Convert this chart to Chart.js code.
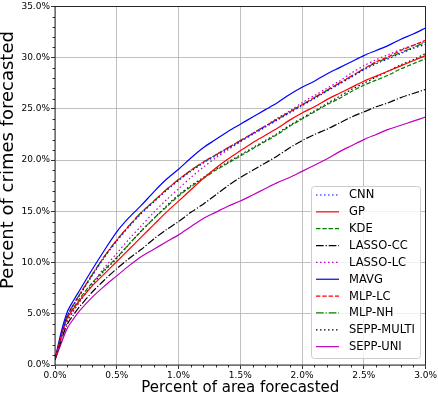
<!DOCTYPE html>
<html>
<head>
<meta charset="utf-8">
<script src="https://cdn.jsdelivr.net/npm/chart.js@4"></script>
<style>
  html, body { margin: 0; padding: 0; background: #fff; }
  #wrap { width: 438px; height: 396px; }
</style>
</head>
<body>
<div id="wrap"><canvas id="pai"></canvas></div>
<script>
// percent of area forecasted (x)
const areaPct = [0, 0.05, 0.1, 0.15, 0.2, 0.3, 0.4, 0.5, 0.6, 0.7, 0.8, 0.9, 1.0, 1.1, 1.2, 1.3, 1.4, 1.5,
    1.6, 1.7, 1.8, 1.9, 2.0, 2.1, 2.2, 2.3, 2.4, 2.5, 2.6, 2.7, 2.8, 2.9, 3.0];

// percent of crimes forecasted, per model
const cnn = [0.5, 2.9, 4.8, 5.9, 6.8, 8.7, 10.5, 12.1, 13.5, 14.8, 15.9, 17.0, 18.0, 18.9, 19.7, 20.4, 21.1, 21.8,
    22.5, 23.2, 23.9, 24.6, 25.3, 26.0, 26.7, 27.4, 28.1, 28.8, 29.4, 29.9, 30.4, 30.9, 31.3];
const gp = [0.5, 2.8, 4.6, 5.5, 6.3, 7.7, 8.9, 10.1, 11.3, 12.5, 13.7, 14.9, 16.0, 17.1, 18.2, 19.2, 20.1, 20.9,
    21.7, 22.4, 23.1, 23.9, 24.6, 25.2, 25.9, 26.5, 27.1, 27.7, 28.2, 28.7, 29.2, 29.7, 30.2];
const kde = [0.5, 2.8, 4.6, 5.6, 6.5, 8.0, 9.3, 10.5, 11.8, 13.1, 14.3, 15.4, 16.5, 17.4, 18.2, 19.0, 19.7, 20.4,
    21.1, 21.8, 22.5, 23.3, 24.0, 24.7, 25.4, 26.0, 26.7, 27.3, 27.8, 28.3, 28.9, 29.4, 29.9];
const lassoCC = [0.5, 2.4, 4.0, 4.9, 5.7, 7.1, 8.3, 9.4, 10.4, 11.3, 12.3, 13.2, 14.0, 14.9, 15.7, 16.6, 17.5, 18.3,
    19.0, 19.7, 20.4, 21.2, 21.9, 22.5, 23.0, 23.6, 24.2, 24.7, 25.2, 25.6, 26.1, 26.5, 26.9];
const lassoLC = [0.5, 2.6, 4.3, 5.3, 6.2, 7.9, 9.5, 10.9, 12.3, 13.6, 14.9, 16.1, 17.2, 18.3, 19.3, 20.2, 21.0, 21.8,
    22.6, 23.3, 24.1, 24.8, 25.6, 26.3, 27.0, 27.7, 28.5, 29.2, 29.8, 30.3, 30.8, 31.2, 31.6];
const mavg = [0.5, 3.2, 5.2, 6.3, 7.3, 9.3, 11.2, 13.0, 14.4, 15.6, 16.9, 18.1, 19.1, 20.2, 21.2, 22.0, 22.8, 23.5,
    24.2, 24.9, 25.6, 26.4, 27.1, 27.7, 28.4, 29.0, 29.6, 30.2, 30.7, 31.2, 31.8, 32.3, 32.9];
const mlpLC = [0.5, 2.9, 4.8, 5.9, 6.9, 8.8, 10.6, 12.2, 13.6, 14.9, 16.0, 17.1, 18.1, 19.0, 19.8, 20.5, 21.2, 21.9,
    22.6, 23.3, 24.0, 24.7, 25.4, 26.1, 26.8, 27.5, 28.2, 28.9, 29.6, 30.1, 30.7, 31.2, 31.7];
const mlpNH = [0.5, 2.9, 4.8, 5.9, 6.9, 8.8, 10.6, 12.2, 13.6, 14.9, 16.0, 17.1, 18.1, 19.0, 19.8, 20.5, 21.2, 21.9,
    22.6, 23.3, 24.0, 24.7, 25.4, 26.1, 26.8, 27.5, 28.2, 28.9, 29.5, 30.0, 30.5, 31.0, 31.5];
const seppMulti = [0.5, 2.6, 4.3, 5.3, 6.2, 7.8, 9.2, 10.4, 11.8, 13.1, 14.3, 15.5, 16.6, 17.5, 18.3, 19.1, 19.8, 20.5,
    21.2, 21.9, 22.6, 23.4, 24.1, 24.8, 25.5, 26.2, 26.9, 27.5, 28.1, 28.7, 29.3, 29.8, 30.4];
const seppUni = [0.5, 2.1, 3.6, 4.5, 5.3, 6.6, 7.7, 8.7, 9.7, 10.6, 11.3, 12.0, 12.7, 13.5, 14.3, 14.9, 15.5, 16.0,
    16.6, 17.2, 17.8, 18.3, 18.9, 19.5, 20.1, 20.8, 21.4, 22.0, 22.5, 23.0, 23.4, 23.8, 24.2];

const xTicks = [0, 0.5, 1.0, 1.5, 2.0, 2.5, 3.0];
const yTicks = [0, 5, 10, 15, 20, 25, 30, 35];

const LW = 1.2;
const DOT = [1.5, 2.5];
const DASH = [4.4, 1.9];
const DASHDOT = [7.7, 1.9, 1.2, 1.9];

function series(label, values, color, dash) {
    return {
        label: label,
        data: areaPct.map((x, i) => ({ x: x, y: values[i] })),
        borderColor: color,
        backgroundColor: color,
        borderWidth: LW,
        borderDash: dash,
        pointRadius: 0,
        tension: 0.3,
        fill: false
    };
}

const datasets = [
    series('CNN', cnn, '#0000ff', DOT),
    series('GP', gp, '#ff0000', []),
    series('KDE', kde, '#008000', DASH),
    series('LASSO-CC', lassoCC, '#000000', DASHDOT),
    series('LASSO-LC', lassoLC, '#bf00bf', DOT),
    series('MAVG', mavg, '#0000ff', []),
    series('MLP-LC', mlpLC, '#ff0000', DASH),
    series('MLP-NH', mlpNH, '#008000', DASHDOT),
    series('SEPP-MULTI', seppMulti, '#000000', DOT),
    series('SEPP-UNI', seppUni, '#bf00bf', [])
];

const FONT = "'DejaVu Sans', sans-serif";

// frame, minor ticks, axis titles and legend box drawn like matplotlib
const decor = {
    id: 'decor',
    afterDraw(chart) {
        const ctx = chart.ctx;
        const a = chart.chartArea;
        const xs = chart.scales.x, ys = chart.scales.y;
        ctx.save();
        ctx.strokeStyle = '#000';
        ctx.lineWidth = 0.8;
        // minor ticks
        ctx.beginPath();
        for (let i = 1; i < 30; i++) {
            if (i % 5 === 0) continue;
            const px = Math.round(xs.getPixelForValue(i / 10)) + 0.5;
            ctx.moveTo(px, a.bottom);
            ctx.lineTo(px, a.bottom + 2.5);
        }
        for (let j = 1; j < 35; j++) {
            if (j % 5 === 0) continue;
            const py = Math.round(ys.getPixelForValue(j)) + 0.5;
            ctx.moveTo(a.left, py);
            ctx.lineTo(a.left - 2.5, py);
        }
        ctx.stroke();
        // frame
        ctx.strokeRect(a.left, a.top, a.right - a.left, a.bottom - a.top);

        // axis titles
        ctx.fillStyle = '#000';
        ctx.font = '15px ' + FONT;
        ctx.textAlign = 'center';
        ctx.textBaseline = 'middle';
        ctx.fillText('Percent of area forecasted', (a.left + a.right) / 2, 388);
        ctx.save();
        ctx.translate(8, 160);
        ctx.rotate(-Math.PI / 2);
        ctx.font = '18px ' + FONT;
        ctx.fillText('Percent of crimes forecasted', 0, 0);
        ctx.restore();

        // legend
        const bx = 311.5, by = 186.5, bw = 109, bh = 172, r = 3;
        ctx.beginPath();
        ctx.moveTo(bx + r, by);
        ctx.arcTo(bx + bw, by, bx + bw, by + bh, r);
        ctx.arcTo(bx + bw, by + bh, bx, by + bh, r);
        ctx.arcTo(bx, by + bh, bx, by, r);
        ctx.arcTo(bx, by, bx + bw, by, r);
        ctx.closePath();
        ctx.fillStyle = 'rgba(255,255,255,0.8)';
        ctx.fill();
        ctx.strokeStyle = '#cccccc';
        ctx.lineWidth = 1;
        ctx.stroke();
        ctx.font = '11.5px ' + FONT;
        ctx.textAlign = 'left';
        chart.data.datasets.forEach((ds, i) => {
            const ry = 195 + i * 16.85;
            ctx.beginPath();
            ctx.setLineDash(ds.borderDash);
            ctx.strokeStyle = ds.borderColor;
            ctx.lineWidth = LW;
            ctx.moveTo(316, ry);
            ctx.lineTo(339, ry);
            ctx.stroke();
            ctx.setLineDash([]);
            ctx.fillStyle = '#000';
            ctx.fillText(ds.label, 349, ry + 0.5);
        });
        ctx.restore();
    }
};

new Chart(document.getElementById('pai').getContext('2d'), {
    type: 'line',
    data: { datasets: datasets },
    options: {
        responsive: true,
        maintainAspectRatio: false,
        animation: false,
        layout: { padding: { left: 0, top: 3, right: 9, bottom: 0 } },
        plugins: { legend: { display: false }, tooltip: { enabled: false } },
        scales: {
            x: {
                type: 'linear',
                min: 0,
                max: 3,
                afterBuildTicks: s => { s.ticks = xTicks.map(v => ({ value: v })); },
                afterFit: s => { s.height = 31; },
                ticks: {
                    padding: 1,
                    color: '#000',
                    font: { family: FONT, size: 9 },
                    maxRotation: 0,
                    callback: v => Number(v).toFixed(1) + '%'
                },
                grid: { color: '#b0b0b0', lineWidth: 0.8, tickLength: 4, tickColor: '#000' },
                border: { display: false }
            },
            y: {
                type: 'linear',
                min: 0,
                max: 35,
                afterBuildTicks: s => { s.ticks = yTicks.map(v => ({ value: v })); },
                afterFit: s => { s.width = 55; },
                ticks: {
                    padding: 1,
                    color: '#000',
                    font: { family: FONT, size: 9 },
                    callback: v => Number(v).toFixed(1) + '%'
                },
                grid: { color: '#b0b0b0', lineWidth: 0.8, tickLength: 4, tickColor: '#000' },
                border: { display: false }
            }
        }
    },
    plugins: [decor]
});
</script>
</body>
</html>
